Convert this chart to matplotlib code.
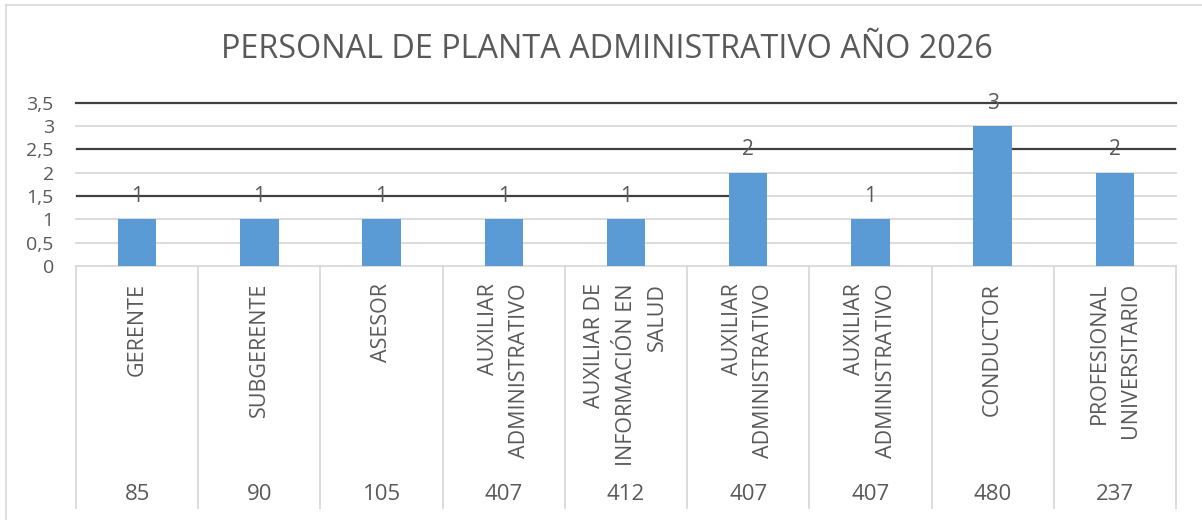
import matplotlib.pyplot as plt
from matplotlib.lines import Line2D

# Data
cargos = ["GERENTE", "SUBGERENTE", "ASESOR", "AUXILIAR\nADMINISTRATIVO",
          "AUXILIAR DE\nINFORMACIÓN EN\nSALUD", "AUXILIAR\nADMINISTRATIVO",
          "AUXILIAR\nADMINISTRATIVO", "CONDUCTOR", "PROFESIONAL\nUNIVERSITARIO"]
codigos = ["85", "90", "105", "407", "412", "407", "407", "480", "237"]
cantidad = [1, 1, 1, 1, 1, 2, 1, 3, 2]
yticks = [0, 0.5, 1, 1.5, 2, 2.5, 3, 3.5]
ytick_labels = ["0", "0,5", "1", "1,5", "2", "2,5", "3", "3,5"]

W, H = 1202, 520
gray_txt = "#595959"
grid_c = "#D9D9D9"
bar_c = "#5B9BD5"
dark = "#404040"
plt.rcParams["font.family"] = ["Open Sans", "DejaVu Sans"]

fig = plt.figure(figsize=(W / 100, H / 100), dpi=100)

# outer chart frame (top and left only visible)
fig.add_artist(Line2D([6 / W, 6 / W], [0, 1 - 5 / H], color=grid_c, lw=1.2))
fig.add_artist(Line2D([6 / W, 1], [1 - 5 / H, 1 - 5 / H], color=grid_c, lw=1.2))

# plot area
left, right, top, bottom = 76, 1176, 102.7, 266
ax = fig.add_axes([left / W, 1 - bottom / H, (right - left) / W, (bottom - top) / H])
n = len(cargos)
x = list(range(n))

ax.set_xlim(-0.5, n - 0.5)
ax.set_ylim(0, 3.5)
for s in ax.spines.values():
    s.set_visible(False)

# gridlines
for yv in yticks[:-1]:
    ax.axhline(yv, color=grid_c, lw=1.3, zorder=1, clip_on=False)

# dark horizontal lines crossing the chart
ax.plot([-0.5, n - 0.5], [3.5, 3.5], color=dark, lw=1.6, zorder=2, clip_on=False)
ax.plot([-0.5, n - 0.5], [2.5, 2.5], color=dark, lw=1.6, zorder=2)
ax.plot([-0.5, 5], [1.5, 1.5], color=dark, lw=1.6, zorder=2)

# bars
ax.bar(x, cantidad, width=0.315, color=bar_c, zorder=3)

# data labels
for xi, v in zip(x, cantidad):
    ax.annotate(str(v), (xi, v), xytext=(0, 16.5), textcoords="offset points",
                ha="center", va="center", fontsize=15, color=gray_txt, zorder=4)

# y axis
ax.set_yticks(yticks)
ax.set_yticklabels(ytick_labels, fontsize=14, color=gray_txt)
ax.tick_params(axis="y", length=0, pad=16)
ax.set_xticks([])

# multi-level category axis
ah = bottom - top
tr = ax.get_xaxis_transform()
for b in range(n + 1):
    ax.plot([b - 0.5, b - 0.5], [0, -(508 - bottom) / ah], color=grid_c, lw=1.3,
            transform=tr, clip_on=False)
for xi, lab, code in zip(x, cargos, codigos):
    ax.text(xi, -(283 - bottom) / ah, lab, transform=tr, rotation=90, ha="center",
            va="top", multialignment="right", fontsize=15.5, color=gray_txt,
            linespacing=1.65)
    ax.text(xi, -(495 - bottom) / ah, code, transform=tr, ha="center", va="center",
            fontsize=16, color=gray_txt)

# title
fig.text(607 / W, 1 - 49 / H, "PERSONAL DE PLANTA ADMINISTRATIVO AÑO 2026",
         ha="center", va="center", fontsize=23.3, color=gray_txt)

fig.savefig("out.png", dpi=100)
